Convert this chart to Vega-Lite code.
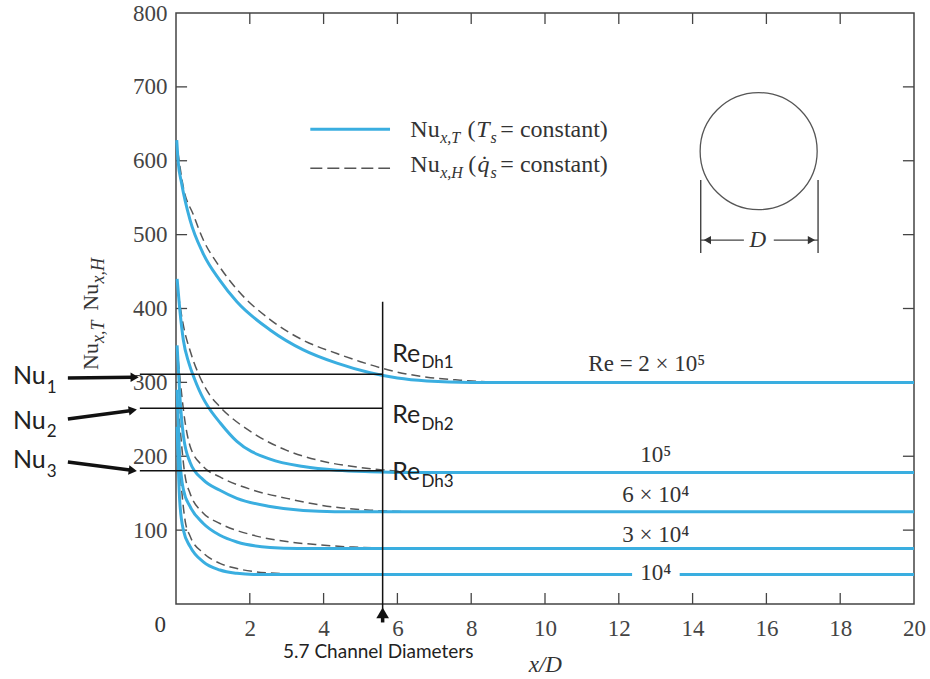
{
  "$schema": "https://vega.github.io/schema/vega-lite/v6.json",
  "width": 738,
  "height": 591,
  "autosize": {"type": "none"},
  "padding": {"left": 176, "top": 13, "right": 16, "bottom": 75},
  "background": "white",
  "config": {
    "view": {"stroke": "#444", "strokeWidth": 1.5},
    "axis": {"grid": false, "title": null, "domain": false, "ticks": false, "labelFont": "Liberation Serif", "labelFontSize": 23, "labelColor": "#444", "labelFlush": false, "labelOverlap": false}
  },
  "datasets": {
    "curves": [
      {"id": "2e5", "kind": "T", "x": 0.02, "y": 628}, {"id": "2e5", "kind": "T", "x": 0.06, "y": 598}, {"id": "2e5", "kind": "T", "x": 0.15, "y": 570}, {"id": "2e5", "kind": "T", "x": 0.38, "y": 520}, {"id": "2e5", "kind": "T", "x": 0.73, "y": 475}, {"id": "2e5", "kind": "T", "x": 1.19, "y": 438}, {"id": "2e5", "kind": "T", "x": 1.65, "y": 409}, {"id": "2e5", "kind": "T", "x": 2.55, "y": 371}, {"id": "2e5", "kind": "T", "x": 3.45, "y": 344}, {"id": "2e5", "kind": "T", "x": 4.36, "y": 326}, {"id": "2e5", "kind": "T", "x": 5.26, "y": 313}, {"id": "2e5", "kind": "T", "x": 6.0, "y": 306}, {"id": "2e5", "kind": "T", "x": 6.8, "y": 302}, {"id": "2e5", "kind": "T", "x": 8.0, "y": 300}, {"id": "2e5", "kind": "T", "x": 20, "y": 300},
      {"id": "1e5", "kind": "T", "x": 0.03, "y": 440}, {"id": "1e5", "kind": "T", "x": 0.1, "y": 400}, {"id": "1e5", "kind": "T", "x": 0.2, "y": 357}, {"id": "1e5", "kind": "T", "x": 0.35, "y": 326}, {"id": "1e5", "kind": "T", "x": 0.5, "y": 305}, {"id": "1e5", "kind": "T", "x": 0.74, "y": 278}, {"id": "1e5", "kind": "T", "x": 0.87, "y": 267}, {"id": "1e5", "kind": "T", "x": 1.2, "y": 245}, {"id": "1e5", "kind": "T", "x": 1.65, "y": 220}, {"id": "1e5", "kind": "T", "x": 2.55, "y": 196}, {"id": "1e5", "kind": "T", "x": 3.45, "y": 186}, {"id": "1e5", "kind": "T", "x": 4.36, "y": 181}, {"id": "1e5", "kind": "T", "x": 5.26, "y": 179}, {"id": "1e5", "kind": "T", "x": 6.2, "y": 178}, {"id": "1e5", "kind": "T", "x": 20, "y": 178},
      {"id": "6e4", "kind": "T", "x": 0.03, "y": 350}, {"id": "6e4", "kind": "T", "x": 0.1, "y": 285}, {"id": "6e4", "kind": "T", "x": 0.2, "y": 228}, {"id": "6e4", "kind": "T", "x": 0.38, "y": 192}, {"id": "6e4", "kind": "T", "x": 0.74, "y": 168}, {"id": "6e4", "kind": "T", "x": 1.19, "y": 154}, {"id": "6e4", "kind": "T", "x": 1.65, "y": 143}, {"id": "6e4", "kind": "T", "x": 2.55, "y": 132}, {"id": "6e4", "kind": "T", "x": 3.45, "y": 126.5}, {"id": "6e4", "kind": "T", "x": 4.3, "y": 125}, {"id": "6e4", "kind": "T", "x": 20, "y": 125},
      {"id": "3e4", "kind": "T", "x": 0.03, "y": 290}, {"id": "3e4", "kind": "T", "x": 0.1, "y": 200}, {"id": "3e4", "kind": "T", "x": 0.2, "y": 155}, {"id": "3e4", "kind": "T", "x": 0.38, "y": 132}, {"id": "3e4", "kind": "T", "x": 0.74, "y": 109}, {"id": "3e4", "kind": "T", "x": 1.19, "y": 93}, {"id": "3e4", "kind": "T", "x": 1.65, "y": 84}, {"id": "3e4", "kind": "T", "x": 2.55, "y": 76.5}, {"id": "3e4", "kind": "T", "x": 3.3, "y": 75}, {"id": "3e4", "kind": "T", "x": 20, "y": 75},
      {"id": "1e4a", "kind": "T", "x": 0.03, "y": 240}, {"id": "1e4a", "kind": "T", "x": 0.1, "y": 140}, {"id": "1e4a", "kind": "T", "x": 0.2, "y": 100}, {"id": "1e4a", "kind": "T", "x": 0.38, "y": 78}, {"id": "1e4a", "kind": "T", "x": 0.74, "y": 57}, {"id": "1e4a", "kind": "T", "x": 1.19, "y": 46}, {"id": "1e4a", "kind": "T", "x": 1.65, "y": 41.5}, {"id": "1e4a", "kind": "T", "x": 2.1, "y": 40}, {"id": "1e4a", "kind": "T", "x": 12.36, "y": 40},
      {"id": "1e4b", "kind": "T", "x": 13.65, "y": 40}, {"id": "1e4b", "kind": "T", "x": 20, "y": 40},
      {"id": "2e5", "kind": "H", "x": 0.05, "y": 612}, {"id": "2e5", "kind": "H", "x": 0.2, "y": 564}, {"id": "2e5", "kind": "H", "x": 0.47, "y": 527}, {"id": "2e5", "kind": "H", "x": 0.73, "y": 494}, {"id": "2e5", "kind": "H", "x": 1.19, "y": 456}, {"id": "2e5", "kind": "H", "x": 1.65, "y": 426}, {"id": "2e5", "kind": "H", "x": 2.55, "y": 385}, {"id": "2e5", "kind": "H", "x": 3.45, "y": 357}, {"id": "2e5", "kind": "H", "x": 4.36, "y": 339}, {"id": "2e5", "kind": "H", "x": 5.0, "y": 328}, {"id": "2e5", "kind": "H", "x": 5.9, "y": 315}, {"id": "2e5", "kind": "H", "x": 6.8, "y": 307}, {"id": "2e5", "kind": "H", "x": 7.7, "y": 303}, {"id": "2e5", "kind": "H", "x": 8.6, "y": 300.5}, {"id": "2e5", "kind": "H", "x": 9.6, "y": 300},
      {"id": "1e5", "kind": "H", "x": 0.06, "y": 420}, {"id": "1e5", "kind": "H", "x": 0.2, "y": 377}, {"id": "1e5", "kind": "H", "x": 0.4, "y": 340}, {"id": "1e5", "kind": "H", "x": 0.65, "y": 307}, {"id": "1e5", "kind": "H", "x": 0.9, "y": 284}, {"id": "1e5", "kind": "H", "x": 1.19, "y": 267}, {"id": "1e5", "kind": "H", "x": 2.1, "y": 231}, {"id": "1e5", "kind": "H", "x": 3.0, "y": 208}, {"id": "1e5", "kind": "H", "x": 3.9, "y": 194}, {"id": "1e5", "kind": "H", "x": 4.8, "y": 186}, {"id": "1e5", "kind": "H", "x": 5.6, "y": 181.5}, {"id": "1e5", "kind": "H", "x": 6.5, "y": 178.5}, {"id": "1e5", "kind": "H", "x": 7.3, "y": 178},
      {"id": "6e4", "kind": "H", "x": 0.06, "y": 330}, {"id": "6e4", "kind": "H", "x": 0.25, "y": 245}, {"id": "6e4", "kind": "H", "x": 0.38, "y": 214}, {"id": "6e4", "kind": "H", "x": 0.74, "y": 186}, {"id": "6e4", "kind": "H", "x": 1.19, "y": 172}, {"id": "6e4", "kind": "H", "x": 2.1, "y": 154}, {"id": "6e4", "kind": "H", "x": 3.0, "y": 143}, {"id": "6e4", "kind": "H", "x": 3.9, "y": 134}, {"id": "6e4", "kind": "H", "x": 4.5, "y": 130}, {"id": "6e4", "kind": "H", "x": 5.26, "y": 127}, {"id": "6e4", "kind": "H", "x": 6.2, "y": 125},
      {"id": "3e4", "kind": "H", "x": 0.06, "y": 270}, {"id": "3e4", "kind": "H", "x": 0.25, "y": 172}, {"id": "3e4", "kind": "H", "x": 0.38, "y": 150}, {"id": "3e4", "kind": "H", "x": 0.74, "y": 123}, {"id": "3e4", "kind": "H", "x": 1.19, "y": 109}, {"id": "3e4", "kind": "H", "x": 2.1, "y": 93}, {"id": "3e4", "kind": "H", "x": 3.0, "y": 84.5}, {"id": "3e4", "kind": "H", "x": 3.9, "y": 80}, {"id": "3e4", "kind": "H", "x": 4.8, "y": 77}, {"id": "3e4", "kind": "H", "x": 5.7, "y": 75.5}, {"id": "3e4", "kind": "H", "x": 6.6, "y": 75},
      {"id": "1e4", "kind": "H", "x": 0.06, "y": 210}, {"id": "1e4", "kind": "H", "x": 0.25, "y": 112}, {"id": "1e4", "kind": "H", "x": 0.38, "y": 92}, {"id": "1e4", "kind": "H", "x": 0.74, "y": 69}, {"id": "1e4", "kind": "H", "x": 1.19, "y": 55}, {"id": "1e4", "kind": "H", "x": 1.65, "y": 48}, {"id": "1e4", "kind": "H", "x": 2.1, "y": 44}, {"id": "1e4", "kind": "H", "x": 2.55, "y": 42}, {"id": "1e4", "kind": "H", "x": 3.45, "y": 40.3}, {"id": "1e4", "kind": "H", "x": 4.0, "y": 40}
    ],
    "ticks": [
      {"x": 2, "y": 0, "x2": 2, "y2": 14.9}, {"x": 4, "y": 0, "x2": 4, "y2": 14.9}, {"x": 6, "y": 0, "x2": 6, "y2": 14.9}, {"x": 8, "y": 0, "x2": 8, "y2": 14.9}, {"x": 10, "y": 0, "x2": 10, "y2": 14.9}, {"x": 12, "y": 0, "x2": 12, "y2": 14.9}, {"x": 14, "y": 0, "x2": 14, "y2": 14.9}, {"x": 16, "y": 0, "x2": 16, "y2": 14.9}, {"x": 18, "y": 0, "x2": 18, "y2": 14.9},
      {"x": 2, "y": 800, "x2": 2, "y2": 785.1}, {"x": 4, "y": 800, "x2": 4, "y2": 785.1}, {"x": 6, "y": 800, "x2": 6, "y2": 785.1}, {"x": 8, "y": 800, "x2": 8, "y2": 785.1}, {"x": 10, "y": 800, "x2": 10, "y2": 785.1}, {"x": 12, "y": 800, "x2": 12, "y2": 785.1}, {"x": 14, "y": 800, "x2": 14, "y2": 785.1}, {"x": 16, "y": 800, "x2": 16, "y2": 785.1}, {"x": 18, "y": 800, "x2": 18, "y2": 785.1},
      {"x": 0, "y": 100, "x2": 0.3, "y2": 100}, {"x": 0, "y": 200, "x2": 0.3, "y2": 200}, {"x": 0, "y": 300, "x2": 0.3, "y2": 300}, {"x": 0, "y": 400, "x2": 0.3, "y2": 400}, {"x": 0, "y": 500, "x2": 0.3, "y2": 500}, {"x": 0, "y": 600, "x2": 0.3, "y2": 600}, {"x": 0, "y": 700, "x2": 0.3, "y2": 700},
      {"x": 20, "y": 100, "x2": 19.7, "y2": 100}, {"x": 20, "y": 200, "x2": 19.7, "y2": 200}, {"x": 20, "y": 300, "x2": 19.7, "y2": 300}, {"x": 20, "y": 400, "x2": 19.7, "y2": 400}, {"x": 20, "y": 500, "x2": 19.7, "y2": 500}, {"x": 20, "y": 600, "x2": 19.7, "y2": 600}, {"x": 20, "y": 700, "x2": 19.7, "y2": 700}
    ]
  },
  "layer": [
    {
      "data": {"name": "ticks"},
      "mark": {"type": "rule", "color": "#444", "strokeWidth": 1.3},
      "encoding": {
        "x": {"field": "x", "type": "quantitative", "scale": {"domain": [0, 20], "nice": false}, "axis": null},
        "y": {"field": "y", "type": "quantitative", "scale": {"domain": [0, 800], "nice": false}, "axis": null},
        "x2": {"field": "x2"}, "y2": {"field": "y2"}
      }
    },
    {
      "data": {"name": "curves"},
      "transform": [{"filter": "datum.kind == 'H'"}],
      "mark": {"type": "line", "stroke": "#555", "strokeWidth": 1.5, "strokeDash": [9, 5], "interpolate": "monotone"},
      "encoding": {
        "x": {"field": "x", "type": "quantitative", "scale": {"domain": [0, 20], "nice": false}, "axis": null},
        "y": {"field": "y", "type": "quantitative", "scale": {"domain": [0, 800], "nice": false}, "axis": null},
        "detail": {"field": "id"}
      }
    },
    {
      "data": {"name": "curves"},
      "transform": [{"filter": "datum.kind == 'T'"}],
      "mark": {"type": "line", "stroke": "#3aaee0", "strokeWidth": 3, "interpolate": "monotone"},
      "encoding": {
        "x": {"field": "x", "type": "quantitative", "scale": {"domain": [0, 20], "nice": false}, "axis": {"orient": "bottom", "values": [2, 4, 6, 8, 10, 12, 14, 16, 18, 20], "labelPadding": 13}},
        "y": {"field": "y", "type": "quantitative", "scale": {"domain": [0, 800], "nice": false}, "axis": {"orient": "left", "values": [100, 200, 300, 400, 500, 600, 700, 800], "labelPadding": 9}},
        "detail": {"field": "id"}
      }
    },
    {
      "data": {"values": [
        {"x": -0.98, "y": 311, "x2": 5.6, "y2": 311},
        {"x": -0.98, "y": 265, "x2": 5.6, "y2": 265},
        {"x": -0.98, "y": 180.5, "x2": 5.6, "y2": 180.5},
        {"x": 5.6, "y": 409, "x2": 5.6, "y2": -24}
      ]},
      "mark": {"type": "rule", "color": "#111", "strokeWidth": 1.5},
      "encoding": {
        "x": {"field": "x", "type": "quantitative", "scale": {"domain": [0, 20], "nice": false}, "axis": null},
        "y": {"field": "y", "type": "quantitative", "scale": {"domain": [0, 800], "nice": false}, "axis": null},
        "x2": {"field": "x2"}, "y2": {"field": "y2"}
      }
    },
    {
      "data": {"values": [
        {"x": -2.93, "y": 306, "x2": -1.15, "y2": 307},
        {"x": -2.93, "y": 250.4, "x2": -1.2, "y2": 262},
        {"x": -2.93, "y": 192.2, "x2": -1.2, "y2": 181},
        {"x": 5.6, "y": -12, "x2": 5.6, "y2": -25}
      ]},
      "mark": {"type": "rule", "color": "#111", "strokeWidth": 3.5},
      "encoding": {
        "x": {"field": "x", "type": "quantitative", "scale": {"domain": [0, 20], "nice": false}, "axis": null},
        "y": {"field": "y", "type": "quantitative", "scale": {"domain": [0, 800], "nice": false}, "axis": null},
        "x2": {"field": "x2"}, "y2": {"field": "y2"}
      }
    },
    {
      "data": {"values": [{"x": -1.12, "y": 307}]},
      "mark": {"type": "point", "shape": "triangle-right", "filled": true, "size": 90, "color": "#111", "opacity": 1},
      "encoding": {
        "x": {"field": "x", "type": "quantitative", "scale": {"domain": [0, 20], "nice": false}, "axis": null},
        "y": {"field": "y", "type": "quantitative", "scale": {"domain": [0, 800], "nice": false}, "axis": null}
      }
    },
    {
      "data": {"values": [{"x": -1.17, "y": 262.3}]},
      "mark": {"type": "point", "shape": "triangle-right", "filled": true, "size": 90, "color": "#111", "opacity": 1, "angle": -9},
      "encoding": {
        "x": {"field": "x", "type": "quantitative", "scale": {"domain": [0, 20], "nice": false}, "axis": null},
        "y": {"field": "y", "type": "quantitative", "scale": {"domain": [0, 800], "nice": false}, "axis": null}
      }
    },
    {
      "data": {"values": [{"x": -1.17, "y": 180.7}]},
      "mark": {"type": "point", "shape": "triangle-right", "filled": true, "size": 90, "color": "#111", "opacity": 1, "angle": 8},
      "encoding": {
        "x": {"field": "x", "type": "quantitative", "scale": {"domain": [0, 20], "nice": false}, "axis": null},
        "y": {"field": "y", "type": "quantitative", "scale": {"domain": [0, 800], "nice": false}, "axis": null}
      }
    },
    {
      "data": {"values": [{"x": 5.6, "y": -12}]},
      "mark": {"type": "point", "shape": "triangle-up", "filled": true, "size": 160, "color": "#111", "opacity": 1},
      "encoding": {
        "x": {"field": "x", "type": "quantitative", "scale": {"domain": [0, 20], "nice": false}, "axis": null},
        "y": {"field": "y", "type": "quantitative", "scale": {"domain": [0, 800], "nice": false}, "axis": null}
      }
    },
    {
      "data": {"values": [
        {"x": 14.22, "y": 574, "x2": 14.22, "y2": 475},
        {"x": 17.4, "y": 574, "x2": 17.4, "y2": 475},
        {"x": 14.22, "y": 492.6, "x2": 15.39, "y2": 492.6},
        {"x": 16.2, "y": 492.6, "x2": 17.4, "y2": 492.6}
      ]},
      "mark": {"type": "rule", "color": "#444", "strokeWidth": 1.4},
      "encoding": {
        "x": {"field": "x", "type": "quantitative", "scale": {"domain": [0, 20], "nice": false}, "axis": null},
        "y": {"field": "y", "type": "quantitative", "scale": {"domain": [0, 800], "nice": false}, "axis": null},
        "x2": {"field": "x2"}, "y2": {"field": "y2"}
      }
    },
    {
      "data": {"values": [{"x": 14.4, "y": 492.6}]},
      "mark": {"type": "point", "shape": "triangle-left", "filled": true, "size": 70, "color": "#333", "opacity": 1},
      "encoding": {
        "x": {"field": "x", "type": "quantitative", "scale": {"domain": [0, 20], "nice": false}, "axis": null},
        "y": {"field": "y", "type": "quantitative", "scale": {"domain": [0, 800], "nice": false}, "axis": null}
      }
    },
    {
      "data": {"values": [{"x": 17.22, "y": 492.6}]},
      "mark": {"type": "point", "shape": "triangle-right", "filled": true, "size": 70, "color": "#333", "opacity": 1},
      "encoding": {
        "x": {"field": "x", "type": "quantitative", "scale": {"domain": [0, 20], "nice": false}, "axis": null},
        "y": {"field": "y", "type": "quantitative", "scale": {"domain": [0, 800], "nice": false}, "axis": null}
      }
    },
    {
      "data": {"values": [{"x": 15.79, "y": 613}]},
      "mark": {"type": "point", "shape": "circle", "filled": false, "size": 13700, "color": "#555", "strokeWidth": 1.3, "opacity": 1},
      "encoding": {
        "x": {"field": "x", "type": "quantitative", "scale": {"domain": [0, 20], "nice": false}, "axis": null},
        "y": {"field": "y", "type": "quantitative", "scale": {"domain": [0, 800], "nice": false}, "axis": null}
      }
    },
    {
      "data": {"values": [{"x": 3.64, "y": 642.6, "x2": 5.8, "y2": 642.6}]},
      "mark": {"type": "rule", "color": "#3aaee0", "strokeWidth": 3},
      "encoding": {
        "x": {"field": "x", "type": "quantitative", "scale": {"domain": [0, 20], "nice": false}, "axis": null},
        "y": {"field": "y", "type": "quantitative", "scale": {"domain": [0, 800], "nice": false}, "axis": null},
        "x2": {"field": "x2"}, "y2": {"field": "y2"}
      }
    },
    {
      "data": {"values": [{"x": 3.64, "y": 589.8, "x2": 5.8, "y2": 589.8}]},
      "mark": {"type": "rule", "color": "#555", "strokeWidth": 1.5, "strokeDash": [12, 5]},
      "encoding": {
        "x": {"field": "x", "type": "quantitative", "scale": {"domain": [0, 20], "nice": false}, "axis": null},
        "y": {"field": "y", "type": "quantitative", "scale": {"domain": [0, 800], "nice": false}, "axis": null},
        "x2": {"field": "x2"}, "y2": {"field": "y2"}
      }
    },
    {
      "data": {"values": [
        {"x": 12.76, "y": 316, "text": "Re = 2 × 10⁵"},
        {"x": 13.0, "y": 192, "text": "10⁵"},
        {"x": 13.0, "y": 138, "text": "6 × 10⁴"},
        {"x": 13.0, "y": 84, "text": "3 × 10⁴"},
        {"x": 13.0, "y": 32.5, "text": "10⁴"},
        {"x": -0.43, "y": -38, "text": "0"}
      ]},
      "mark": {"type": "text", "font": "Liberation Serif", "fontSize": 23, "align": "center", "baseline": "alphabetic", "color": "#333"},
      "encoding": {
        "x": {"field": "x", "type": "quantitative", "scale": {"domain": [0, 20], "nice": false}, "axis": null},
        "y": {"field": "y", "type": "quantitative", "scale": {"domain": [0, 800], "nice": false}, "axis": null},
        "text": {"field": "text"}
      }
    },
    {
      "data": {"values": [
        {"x": 6.35, "y": 632.1, "text": "Nu"},
        {"x": 7.9, "y": 632.1, "text": "("},
        {"x": 8.79, "y": 632.1, "text": "= constant)"},
        {"x": 6.35, "y": 585.2, "text": "Nu"},
        {"x": 7.92, "y": 585.2, "text": "("},
        {"x": 8.79, "y": 585.2, "text": "= constant)"}
      ]},
      "mark": {"type": "text", "font": "Liberation Serif", "fontSize": 24, "align": "left", "baseline": "alphabetic", "color": "#333"},
      "encoding": {
        "x": {"field": "x", "type": "quantitative", "scale": {"domain": [0, 20], "nice": false}, "axis": null},
        "y": {"field": "y", "type": "quantitative", "scale": {"domain": [0, 800], "nice": false}, "axis": null},
        "text": {"field": "text"}
      }
    },
    {
      "data": {"values": [
        {"x": 8.14, "y": 632.1, "text": "T"},
        {"x": 8.17, "y": 585.2, "text": "q̇"}
      ]},
      "mark": {"type": "text", "font": "Liberation Serif", "fontSize": 24, "fontStyle": "italic", "align": "left", "baseline": "alphabetic", "color": "#333"},
      "encoding": {
        "x": {"field": "x", "type": "quantitative", "scale": {"domain": [0, 20], "nice": false}, "axis": null},
        "y": {"field": "y", "type": "quantitative", "scale": {"domain": [0, 800], "nice": false}, "axis": null},
        "text": {"field": "text"}
      }
    },
    {
      "data": {"values": [
        {"x": 7.16, "y": 624.0, "text": "x,T"},
        {"x": 8.52, "y": 624.0, "text": "s"},
        {"x": 7.16, "y": 576.7, "text": "x,H"},
        {"x": 8.52, "y": 576.7, "text": "s"}
      ]},
      "mark": {"type": "text", "font": "Liberation Serif", "fontSize": 16, "fontStyle": "italic", "align": "left", "baseline": "alphabetic", "color": "#333"},
      "encoding": {
        "x": {"field": "x", "type": "quantitative", "scale": {"domain": [0, 20], "nice": false}, "axis": null},
        "y": {"field": "y", "type": "quantitative", "scale": {"domain": [0, 800], "nice": false}, "axis": null},
        "text": {"field": "text"}
      }
    },
    {
      "data": {"values": [
        {"x": 15.77, "y": 483.2, "text": "D"},
        {"x": 10.01, "y": -92, "text": "x/D"}
      ]},
      "mark": {"type": "text", "font": "Liberation Serif", "fontSize": 23, "fontStyle": "italic", "align": "center", "baseline": "alphabetic", "color": "#333"},
      "encoding": {
        "x": {"field": "x", "type": "quantitative", "scale": {"domain": [0, 20], "nice": false}, "axis": null},
        "y": {"field": "y", "type": "quantitative", "scale": {"domain": [0, 800], "nice": false}, "axis": null},
        "text": {"field": "text"}
      }
    },
    {
      "data": {"values": [
        {"x": -2.12, "y": 316.8, "text": "Nu"},
        {"x": -2.12, "y": 397.0, "text": "Nu"}
      ]},
      "mark": {"type": "text", "font": "Liberation Serif", "fontSize": 22, "angle": 270, "align": "left", "baseline": "alphabetic", "color": "#333"},
      "encoding": {
        "x": {"field": "x", "type": "quantitative", "scale": {"domain": [0, 20], "nice": false}, "axis": null},
        "y": {"field": "y", "type": "quantitative", "scale": {"domain": [0, 800], "nice": false}, "axis": null},
        "text": {"field": "text"}
      }
    },
    {
      "data": {"values": [
        {"x": -1.95, "y": 353.3, "text": "x,T"},
        {"x": -1.95, "y": 434.0, "text": "x,H"}
      ]},
      "mark": {"type": "text", "font": "Liberation Serif", "fontSize": 18, "fontStyle": "italic", "angle": 270, "align": "left", "baseline": "alphabetic", "color": "#333"},
      "encoding": {
        "x": {"field": "x", "type": "quantitative", "scale": {"domain": [0, 20], "nice": false}, "axis": null},
        "y": {"field": "y", "type": "quantitative", "scale": {"domain": [0, 800], "nice": false}, "axis": null},
        "text": {"field": "text"}
      }
    },
    {
      "data": {"values": [
        {"x": -4.42, "y": 297.8, "text": "Nu"},
        {"x": -4.42, "y": 236.9, "text": "Nu"},
        {"x": -4.42, "y": 184.1, "text": "Nu"},
        {"x": 5.86, "y": 327.6, "text": "Re"},
        {"x": 5.86, "y": 245.0, "text": "Re"},
        {"x": 5.86, "y": 167.9, "text": "Re"}
      ]},
      "mark": {"type": "text", "font": "Lato", "fontSize": 25, "align": "left", "baseline": "alphabetic", "color": "#222"},
      "encoding": {
        "x": {"field": "x", "type": "quantitative", "scale": {"domain": [0, 20], "nice": false}, "axis": null},
        "y": {"field": "y", "type": "quantitative", "scale": {"domain": [0, 800], "nice": false}, "axis": null},
        "text": {"field": "text"}
      }
    },
    {
      "data": {"values": [
        {"x": -3.5, "y": 285.6, "text": "1"},
        {"x": -3.5, "y": 226.1, "text": "2"},
        {"x": -3.5, "y": 171.9, "text": "3"},
        {"x": 6.65, "y": 319.5, "text": "Dh1"},
        {"x": 6.65, "y": 235.5, "text": "Dh2"},
        {"x": 6.65, "y": 158.4, "text": "Dh3"}
      ]},
      "mark": {"type": "text", "font": "Lato", "fontSize": 17, "align": "left", "baseline": "alphabetic", "color": "#222"},
      "encoding": {
        "x": {"field": "x", "type": "quantitative", "scale": {"domain": [0, 20], "nice": false}, "axis": null},
        "y": {"field": "y", "type": "quantitative", "scale": {"domain": [0, 800], "nice": false}, "axis": null},
        "text": {"field": "text"}
      }
    },
    {
      "data": {"values": [{"x": 2.9, "y": -73.1, "text": "5.7 Channel Diameters"}]},
      "mark": {"type": "text", "font": "Lato", "fontSize": 19, "align": "left", "baseline": "alphabetic", "color": "#222"},
      "encoding": {
        "x": {"field": "x", "type": "quantitative", "scale": {"domain": [0, 20], "nice": false}, "axis": null},
        "y": {"field": "y", "type": "quantitative", "scale": {"domain": [0, 800], "nice": false}, "axis": null},
        "text": {"field": "text"}
      }
    }
  ],
  "resolve": {"axis": {"x": "independent", "y": "independent"}}
}
